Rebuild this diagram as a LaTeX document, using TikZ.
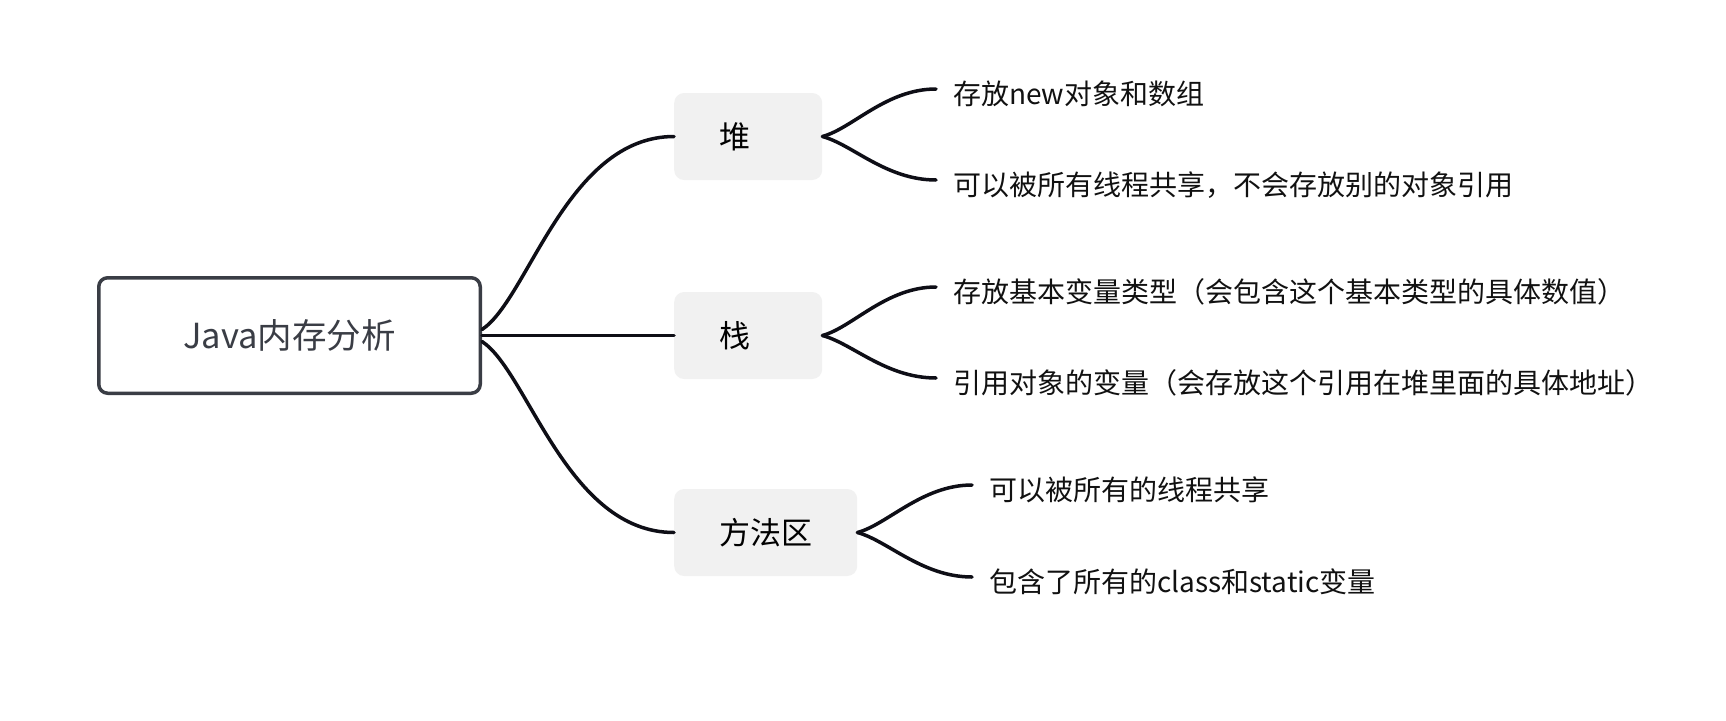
\documentclass[tikz,border=0pt]{standalone}
\usepackage{fontspec}
\newfontfamily\cjk{Noto Sans CJK SC}
\definecolor{rootgray}{HTML}{3A3D45}
\definecolor{subfill}{HTML}{F1F1F1}
\definecolor{linkblack}{HTML}{0E0E16}
\definecolor{leafblack}{HTML}{111111}
\tikzset{
  rootbox/.style={draw=rootgray, line width=3.5pt, rounded corners=9pt,
    minimum width=381.5pt, minimum height=115.5pt, inner sep=0pt,
    font=\cjk\fontsize{34.5}{41}\selectfont, text=rootgray},
  subbox/.style={fill=subfill, rounded corners=10pt, anchor=west,
    minimum height=87pt, inner xsep=45pt, inner ysep=0pt, align=left,
    font=\cjk\fontsize{31}{37}\selectfont, text=black},
  leaftext/.style={anchor=west, inner xsep=17pt, inner ysep=0pt,
    text height=34pt, text depth=4pt,
    font=\cjk\fontsize{28}{34}\selectfont, text=leafblack},
  link/.style={draw=linkblack, line width=3.5pt, line cap=round}
}
\begin{document}
\begin{tikzpicture}[x=1pt,y=-1pt]
\useasboundingbox (0,0) rectangle (1726,720);
\fill[white] (0,0) rectangle (1726,720);

\node[rootbox] (root) at (289.5,335.5) {Java内存分析};

\node[subbox, text width=58pt] (heap) at (674,136.5) {堆};
\node[subbox, text width=58pt] (stack) at (674,335.5) {栈};
\node[subbox] (method) at (674,532.5) {方法区};

\node[leaftext] (l1) at (936,89) {存放new对象和数组};
\node[leaftext] (l2) at (936,180) {可以被所有线程共享，不会存放别的对象引用};
\node[leaftext] (l3) at (936,287) {存放基本变量类型（会包含这个基本类型的具体数值）};
\node[leaftext] (l4) at (936,378) {引用对象的变量（会存放这个引用在堆里面的具体地址）};
\node[leaftext] (l5) at (972,485) {可以被所有的线程共享};
\node[leaftext] (l6) at (972,577) {包含了所有的class和static变量};

\draw[link] ([yshift=6pt]root.east) .. controls +(46,-30) and +(-107,0) .. (heap.west);
\draw[link] (root.east) -- (stack.west);
\draw[link] ([yshift=-6pt]root.east) .. controls +(46,30) and +(-107,0) .. (method.west);

\draw[link] (heap.east) .. controls +(30,-8) and +(-50,0) .. (l1.west);
\draw[link] (heap.east) .. controls +(30,8) and +(-50,0) .. (l2.west);
\draw[link] (stack.east) .. controls +(30,-8) and +(-50,0) .. (l3.west);
\draw[link] (stack.east) .. controls +(30,8) and +(-50,0) .. (l4.west);
\draw[link] (method.east) .. controls +(30,-8) and +(-50,0) .. (l5.west);
\draw[link] (method.east) .. controls +(30,8) and +(-50,0) .. (l6.west);
\end{tikzpicture}
\end{document}
